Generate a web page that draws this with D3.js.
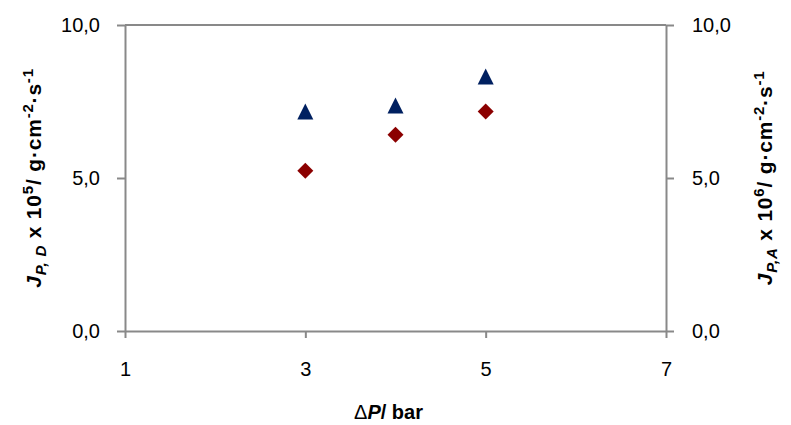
<!DOCTYPE html>
<html>
<head>
<meta charset="utf-8">
<script src="https://cdn.jsdelivr.net/npm/d3@7"></script>
<style>
  body { margin: 0; background: #fff; }
  svg { font-family: "Liberation Sans", Arial, sans-serif; }
</style>
</head>
<body>
<svg id="chart" width="791" height="425"></svg>
<script>
// pressure difference (bar)
const pressures = [3, 4, 5];
// J_P,D x 10^5 (left axis) - red diamonds
const fluxD = [5.24, 6.41, 7.17];
// J_P,A x 10^6 (right axis) - blue triangles
const fluxA = [7.16, 7.35, 8.30];
const xTicks = [1, 3, 5, 7];
const yTicks = [0, 5, 10];

const margin = { top: 25, right: 125, bottom: 94, left: 125 },
  width = 791 - margin.left - margin.right,
  height = 425 - margin.top - margin.bottom;

const svg = d3.select("#chart")
  .append("g")
  .attr("transform", `translate(${margin.left},${margin.top})`);

const x = d3.scaleLinear().domain([1, 7]).range([0, width]);
const yL = d3.scaleLinear().domain([0, 10]).range([height, 0]);
const yR = d3.scaleLinear().domain([0, 10]).range([height, 0]);

const fmt = d => d3.format(".1f")(d).replace(".", ",");
const axisColor = "#898989";

function styleAxis(g) {
  g.attr("font-size", 20).attr("font-family", "Liberation Sans, Arial, sans-serif");
  g.selectAll("path").attr("stroke", axisColor).attr("stroke-width", 2);
  g.selectAll("line").attr("stroke", axisColor).attr("stroke-width", 2);
  g.selectAll("text").attr("fill", "#000");
}

// top border line
svg.append("line")
  .attr("x1", 0).attr("x2", width)
  .attr("y1", 0).attr("y2", 0)
  .attr("stroke", axisColor).attr("stroke-width", 2);

svg.append("g")
  .attr("transform", `translate(0,${height})`)
  .call(d3.axisBottom(x).tickValues(xTicks).tickFormat(d3.format("d")).tickSize(7).tickSizeOuter(0).tickPadding(24))
  .call(styleAxis);

svg.append("g")
  .call(d3.axisLeft(yL).tickValues(yTicks).tickFormat(fmt).tickSize(8).tickSizeOuter(0).tickPadding(17))
  .call(styleAxis)
  .selectAll("text").attr("dy", "0.34em");

svg.append("g")
  .attr("transform", `translate(${width},0)`)
  .call(d3.axisRight(yR).tickValues(yTicks).tickFormat(fmt).tickSize(8).tickSizeOuter(0).tickPadding(18))
  .call(styleAxis)
  .selectAll("text").attr("dy", "0.34em");

// diamonds (left axis)
svg.append("g").selectAll("path")
  .data(pressures.map((p, i) => ({ p, v: fluxD[i] })))
  .enter().append("path")
  .attr("d", "M0,-8L8,0L0,8L-8,0Z")
  .attr("transform", d => `translate(${x(d.p)},${yL(d.v)})`)
  .attr("fill", "#8b0000");

// triangles (right axis)
svg.append("g").selectAll("path")
  .data(pressures.map((p, i) => ({ p, v: fluxA[i] })))
  .enter().append("path")
  .attr("d", "M0,-8.5L8,7.5L-8,7.5Z")
  .attr("transform", d => `translate(${x(d.p)},${yR(d.v)})`)
  .attr("fill", "#002060");

// x title
const xt = svg.append("text")
  .attr("x", width / 2 - 7)
  .attr("y", height + 88)
  .attr("text-anchor", "middle")
  .style("font-size", "20px")
  .style("font-weight", "bold");
xt.append("tspan").text("Δ").style("font-weight", "normal");
xt.append("tspan").text("P").style("font-style", "italic");
xt.append("tspan").text("/ bar");

// y titles with sub/superscripts
function yTitle(tx, sub, pow) {
  const t = svg.append("text")
    .attr("transform", `translate(${tx},${height / 2}) rotate(-90)`)
    .attr("text-anchor", "middle")
    .style("font-size", "21px")
    .style("font-weight", "bold")
    .style("letter-spacing", "0.8px");
  t.append("tspan").text("J").style("font-style", "italic");
  t.append("tspan").text(sub).style("font-style", "italic").style("font-size", "15px").attr("dy", 5);
  t.append("tspan").text(" x 10").attr("dy", -5);
  t.append("tspan").text(pow).style("font-size", "15px").attr("dy", -8);
  t.append("tspan").text("/ g·cm").attr("dy", 8);
  t.append("tspan").text("-2").style("font-size", "15px").attr("dy", -8);
  t.append("tspan").text("·s").attr("dy", 8);
  t.append("tspan").text("-1").style("font-size", "15px").attr("dy", -8);
}
yTitle(-84, "P, D", "5");
yTitle(width + 106, "P,A", "6");
</script>
</body>
</html>
